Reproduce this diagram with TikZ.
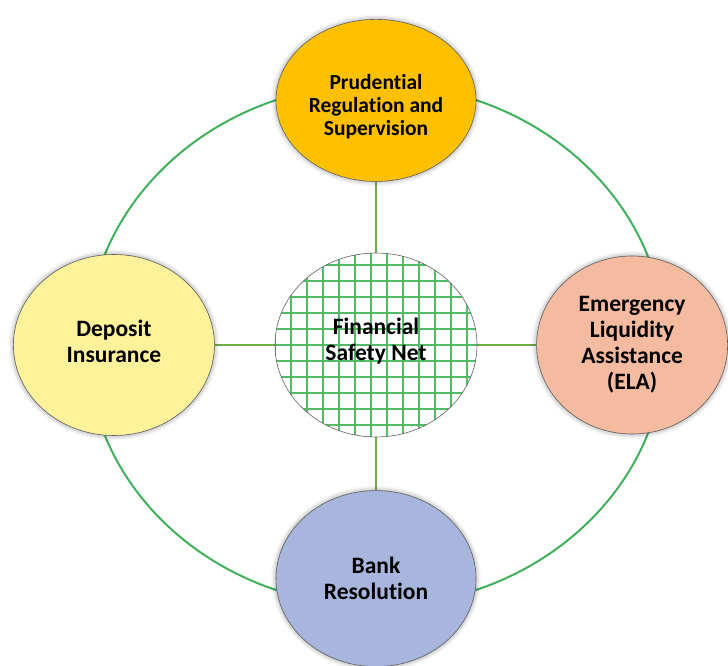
\documentclass[tikz,border=0pt]{standalone}
\usepackage{fontspec}
\setmainfont{Carlito}[Ligatures=NoCommon]
\usetikzlibrary{shapes.geometric, positioning, shadows.blur, backgrounds}
\usepackage{xcolor}
\definecolor{RingGreen}{RGB}{64,176,92}
\definecolor{LinkGreen}{RGB}{112,173,71}
\definecolor{GridGreen}{RGB}{84,186,104}
\definecolor{GoldFill}{RGB}{255,192,0}
\definecolor{PaleYellow}{RGB}{255,242,155}
\definecolor{SalmonFill}{RGB}{245,187,160}
\definecolor{SteelBlue}{RGB}{168,182,221}

\begin{document}
\begin{tikzpicture}[
          outer/.style={ellipse, draw=gray!75!black, line width=0.6pt, inner sep=0pt, align=center, font=\bfseries\fontsize{23.5}{26}\selectfont, blur shadow={shadow xshift=0pt, shadow yshift=0pt, shadow blur radius=5pt, shadow opacity=45}},
          gridline/.style={draw=GridGreen, line width=2pt},
          hub/.style={ellipse, draw=gray!75!black, line width=0.6pt, fill=white, inner sep=0pt, minimum width=202pt, minimum height=184pt, align=center, font=\bfseries\fontsize{23.5}{26}\selectfont,
            path picture={
              \foreach \k in {-7,...,7}{
                \draw[gridline] ([xshift=\k*16pt-5pt]path picture bounding box.north) -- ([xshift=\k*16pt-5pt]path picture bounding box.south);
                \draw[gridline] ([yshift=\k*16pt]path picture bounding box.west) -- ([yshift=\k*16pt]path picture bounding box.east);
              }
            }},
          link/.style={draw=LinkGreen, line width=2.2pt},
          ring/.style={draw=RingGreen, line width=2pt}
        ]
          \useasboundingbox (0,0) rectangle (728pt,-666pt);

          \node (net) [hub, text depth=11pt] at (376pt,-345pt) {Financial\\Safety Net};
          \node (prud) [outer, fill=GoldFill, minimum width=200pt, minimum height=162pt, above=71pt of net, font=\bfseries\fontsize{21.5}{23}\selectfont] {\rule{0pt}{27pt}Prudential\\Regulation and\\Supervision};
          \node (bank) [outer, fill=SteelBlue, minimum width=200pt, minimum height=176pt, below=53pt of net] {Bank\\Resolution};
          \node (dep) [outer, fill=PaleYellow, minimum width=201pt, minimum height=181pt, left=60pt of net, text depth=8pt] {Deposit\\Insurance};
          \node (ela) [outer, fill=SalmonFill, minimum width=191pt, minimum height=178pt, right=59pt of net] {Emergency\\Liquidity\\Assistance\\(ELA)};

          % ring and spokes sit behind the ellipses
          \begin{pgfonlayer}{background}
            \draw [ring] (net.center) ellipse [x radius=289pt, y radius=261pt];
            \draw [link] (prud) -- (net);
            \draw [link] (bank) -- (net);
            \draw [link] (dep) -- (net);
            \draw [link] (ela) -- (net);
          \end{pgfonlayer}
        \end{tikzpicture}
\end{document}
